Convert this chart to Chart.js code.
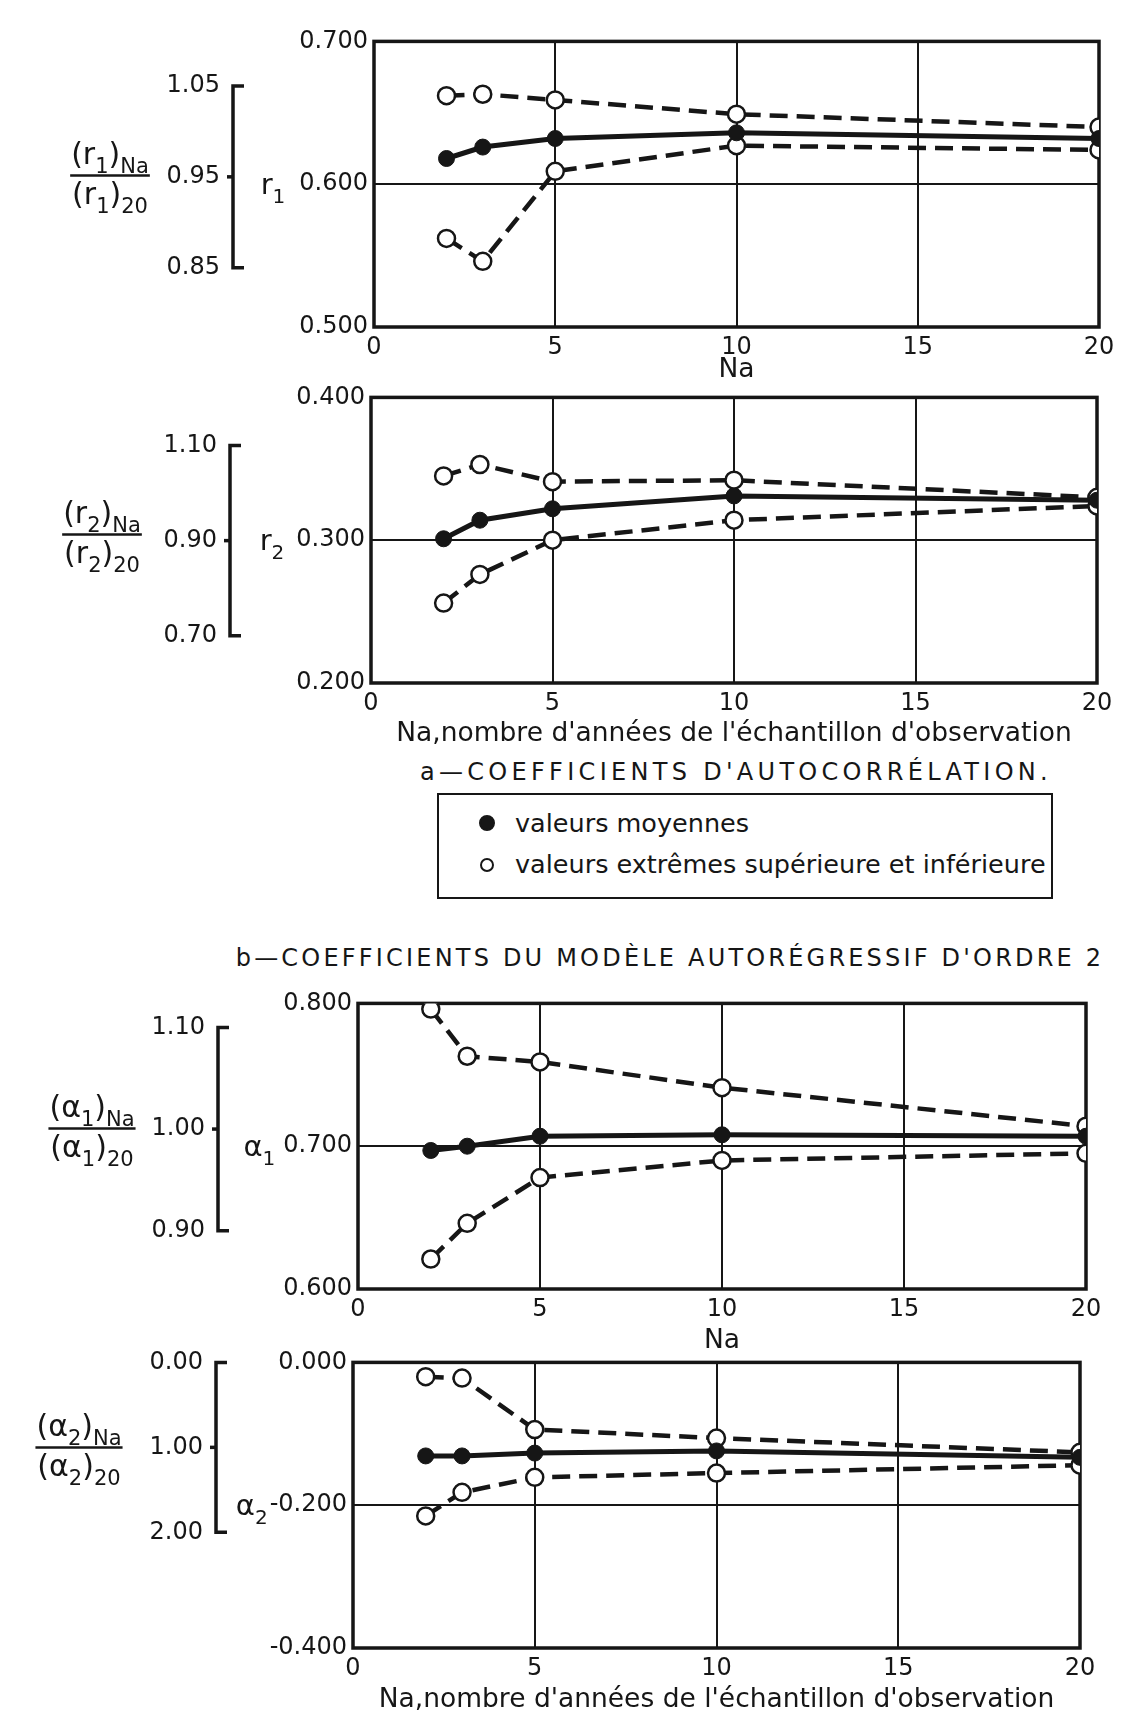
<!DOCTYPE html>
<html lang="fr">
<head>
<meta charset="utf-8">
<title>Coefficients d'autocorrélation et du modèle autorégressif</title>
<script src="https://cdn.jsdelivr.net/npm/chart.js@4.4.1/dist/chart.umd.min.js"></script>
<style>
  html, body { margin: 0; padding: 0; background: #fff; }
  body { position: relative; width: 1124px; height: 1725px; overflow: hidden;
         font-family: "DejaVu Sans", "Liberation Sans", sans-serif; color: #161616; }
  canvas { position: absolute; left: 0; }
  .heading { position: absolute; white-space: nowrap; font-size: 24px;
             line-height: 1; transform: translate(-50%, -50%); }
  #legend { position: absolute; left: 437px; top: 793px; width: 612px; height: 102px;
            border: 2px solid #161616; }
  .row { position: absolute; left: 40px; font-size: 25.5px; white-space: nowrap; line-height: 1; }
  .dot { display: inline-block; border-radius: 50%; margin-right: 20px;
         vertical-align: 1px; box-sizing: border-box; border: 2px solid #161616; }
</style>
</head>
<body>

<canvas id="chart-r1" width="1124" height="367" style="top:21px"></canvas>
<canvas id="chart-r2" width="1124" height="375" style="top:377px"></canvas>

<div class="heading" style="left:736px; top:772px; letter-spacing:4.3px">a—COEFFICIENTS D'AUTOCORRÉLATION.</div>

<div id="legend">
  <div class="row" style="top:16px"><span class="dot" style="width:16px;height:16px;background:#161616"></span>valeurs moyennes</div>
  <div class="row" style="top:57px"><span class="dot" style="width:14px;height:14px;background:#fff;margin-left:1px;margin-right:21px"></span>valeurs extrêmes supérieure et inférieure</div>
</div>

<div class="heading" style="left:670px; top:958px; letter-spacing:3.2px">b—COEFFICIENTS DU MODÈLE AUTORÉGRESSIF D'ORDRE 2</div>

<canvas id="chart-a1" width="1124" height="376" style="top:983px"></canvas>
<canvas id="chart-a2" width="1124" height="376" style="top:1342px"></canvas>

<script>
// Couleur de l'encre
var ink = '#161616'

// Na, nombre d'années de l'échantillon
var naValues = [2, 3, 5, 10, 20]
var naTicks = [0, 5, 10, 15, 20]

// r1
var r1Upper = [0.662, 0.663, 0.659, 0.649, 0.640]
var r1Mean = [0.618, 0.626, 0.632, 0.636, 0.632]
var r1Lower = [0.562, 0.546, 0.609, 0.627, 0.624]
var r1Ticks = [0.500, 0.600, 0.700]
var r1RatioTicks = [0.85, 0.95, 1.05]
var r1Ref = 0.637

// r2
var r2Upper = [0.345, 0.353, 0.341, 0.342, 0.330]
var r2Mean = [0.301, 0.314, 0.322, 0.331, 0.328]
var r2Lower = [0.256, 0.276, 0.300, 0.314, 0.324]
var r2Ticks = [0.200, 0.300, 0.400]
var r2RatioTicks = [0.70, 0.90, 1.10]
var r2Ref = 0.333

// alpha1
var a1Upper = [0.796, 0.763, 0.759, 0.741, 0.714]
var a1Mean = [0.697, 0.700, 0.707, 0.708, 0.707]
var a1Lower = [0.621, 0.646, 0.678, 0.690, 0.695]
var a1Ticks = [0.600, 0.700, 0.800]
var a1RatioTicks = [0.90, 1.00, 1.10]
var a1Ref = 0.712

// alpha2
var a2Upper = [-0.020, -0.022, -0.094, -0.106, -0.126]
var a2Mean = [-0.131, -0.131, -0.127, -0.124, -0.133]
var a2Lower = [-0.215, -0.182, -0.161, -0.155, -0.144]
var a2Ticks = [-0.400, -0.200, 0.000]
var a2RatioTicks = [0.00, 1.00, 2.00]
var a2Ref = -0.119

var xTitleShort = 'Na'
var xTitleLong = "Na,nombre d'années de l'échantillon d'observation"

var fontFamily = '"DejaVu Sans", "Liberation Sans", sans-serif'

function toPoints(values) {
  return values.map((v, i) => ({ x: naValues[i], y: v }))
}

// Texte avec indices (ex. (r1)Na)
function drawRuns(ctx, runs, x, y, size, align) {
  var big = size + 'px ' + fontFamily
  var small = Math.round(size * 0.7) + 'px ' + fontFamily
  var w = 0
  runs.forEach(r => { ctx.font = r[1] ? small : big; w += ctx.measureText(r[0]).width })
  var cx = align == 'center' ? x - w / 2 : (align == 'right' ? x - w : x)
  ctx.textAlign = 'left'
  ctx.textBaseline = 'alphabetic'
  runs.forEach(r => {
    ctx.font = r[1] ? small : big
    ctx.fillText(r[0], cx, r[1] ? y + size * 0.3 : y)
    cx += ctx.measureText(r[0]).width
  })
  return w
}

// Cadre, accolade du rapport et étiquettes de gauche
var framePlugin = {
  id: 'frame',
  beforeDatasetsDraw(chart, args, opts) {
    var a = chart.chartArea
    var ctx = chart.ctx
    ctx.save()
    ctx.strokeStyle = ink
    ctx.lineWidth = 3.5
    ctx.strokeRect(a.left, a.top, a.right - a.left, a.bottom - a.top)
    ctx.restore()
  },
  afterDraw(chart, args, opts) {
    var ctx = chart.ctx
    var y = chart.scales.y
    var a = chart.chartArea
    ctx.save()
    ctx.fillStyle = ink
    ctx.strokeStyle = ink

    // accolade
    var ys = opts.ratioTicks.map(t => y.getPixelForValue(t * opts.ref))
    var top = Math.min(...ys), bottom = Math.max(...ys)
    var bx = opts.bracketX
    ctx.lineWidth = 3.5
    ctx.beginPath()
    ctx.moveTo(bx + 11, top); ctx.lineTo(bx, top); ctx.lineTo(bx, bottom); ctx.lineTo(bx + 11, bottom)
    ctx.stroke()
    ctx.font = '24px ' + fontFamily
    ctx.textAlign = 'right'
    ctx.textBaseline = 'middle'
    opts.ratioTicks.forEach((t, i) => {
      var py = ys[i]
      if (py != top && py != bottom) {
        ctx.beginPath(); ctx.moveTo(bx - 6, py); ctx.lineTo(bx, py); ctx.stroke()
      }
      ctx.fillText(t.toFixed(2), bx - 13, py)
    })

    // symbole (r1, alpha1...) devant l'étiquette du milieu
    var mid = y.ticks[1]
    var midY = y.getPixelForValue(mid.value)
    ctx.font = '24px ' + fontFamily
    var lw = ctx.measureText(mid.value.toFixed(3)).width
    drawRuns(ctx, [[opts.symbol, 0], [opts.index, 1]], a.left - 6 - lw - opts.symbolGap, midY + 10, 29, 'right')

    // fraction (x)Na / (x)20
    var lineY = a.top + opts.fracY
    var wNum = drawRuns(ctx, [['(' + opts.symbol, 0], [opts.index, 1], [')', 0], ['Na', 1]], opts.fracX, lineY - 11, 30, 'center')
    var wDen = drawRuns(ctx, [['(' + opts.symbol, 0], [opts.index, 1], [')', 0], ['20', 1]], opts.fracX, lineY + 29, 30, 'center')
    var w = Math.max(wNum, wDen) + 2
    ctx.lineWidth = 2.5
    ctx.beginPath(); ctx.moveTo(opts.fracX - w / 2, lineY); ctx.lineTo(opts.fracX + w / 2, lineY); ctx.stroke()
    ctx.restore()
  }
}

function extremeSet(values) {
  return {
    data: toPoints(values),
    borderColor: ink,
    borderWidth: 4.5,
    borderDash: [18, 9],
    pointRadius: 8.5,
    pointBorderWidth: 2.5,
    pointBackgroundColor: '#fff',
    pointBorderColor: ink,
    order: 1
  }
}

function meanSet(values) {
  return {
    data: toPoints(values),
    borderColor: ink,
    borderWidth: 5,
    pointRadius: 8,
    pointBorderWidth: 1,
    pointBackgroundColor: ink,
    pointBorderColor: ink,
    order: 0
  }
}

function makePanel(id, cfg) {
  var tickFont = { family: fontFamily, size: 24 }
  var titleFont = { family: fontFamily, size: 26.5 }
  return new Chart(document.getElementById(id), {
    type: 'line',
    data: { datasets: [extremeSet(cfg.upper), meanSet(cfg.mean), extremeSet(cfg.lower)] },
    options: {
      responsive: false,
      animation: false,
      layout: { padding: { top: 20, right: 1124 - cfg.right, bottom: 0, left: 0 } },
      plugins: {
        legend: { display: false },
        tooltip: { enabled: false },
        frame: cfg.frame
      },
      scales: {
        x: {
          type: 'linear',
          min: naTicks[0],
          max: naTicks[naTicks.length - 1],
          afterBuildTicks: s => { s.ticks = naTicks.map(v => ({ value: v })) },
          afterFit: s => { s.height = cfg.xHeight },
          grid: {
            drawTicks: false,
            lineWidth: 2,
            color: c => (c.index > 0 && c.index < naTicks.length - 1) ? ink : 'rgba(0,0,0,0)'
          },
          border: { display: false },
          ticks: { color: ink, padding: 6, font: tickFont },
          title: { display: true, text: cfg.xTitle, color: ink, font: titleFont, padding: { top: 0, bottom: 2 } }
        },
        y: {
          min: cfg.yTicks[0],
          max: cfg.yTicks[cfg.yTicks.length - 1],
          afterBuildTicks: s => { s.ticks = cfg.yTicks.map(v => ({ value: v })) },
          afterFit: s => { s.width = cfg.left },
          grid: {
            drawTicks: false,
            lineWidth: 2,
            color: c => c.index == 1 ? ink : 'rgba(0,0,0,0)'
          },
          border: { display: false },
          ticks: { color: ink, padding: 6, font: tickFont, callback: v => v.toFixed(3) }
        }
      }
    },
    plugins: [framePlugin]
  })
}

window.onload = function () {
  makePanel('chart-r1', {
    upper: r1Upper, mean: r1Mean, lower: r1Lower, yTicks: r1Ticks,
    left: 374, right: 1099, xHeight: 61, xTitle: xTitleShort,
    frame: { ratioTicks: r1RatioTicks, ref: r1Ref, symbol: 'r', index: '1', symbolGap: 14, bracketX: 233, fracX: 110, fracY: 134 }
  })
  makePanel('chart-r2', {
    upper: r2Upper, mean: r2Mean, lower: r2Lower, yTicks: r2Ticks,
    left: 371, right: 1097, xHeight: 69, xTitle: xTitleLong,
    frame: { ratioTicks: r2RatioTicks, ref: r2Ref, symbol: 'r', index: '2', symbolGap: 12, bracketX: 230, fracX: 102, fracY: 137 }
  })
  makePanel('chart-a1', {
    upper: a1Upper, mean: a1Mean, lower: a1Lower, yTicks: a1Ticks,
    left: 358, right: 1086, xHeight: 70, xTitle: xTitleShort,
    frame: { ratioTicks: a1RatioTicks, ref: a1Ref, symbol: 'α', index: '1', symbolGap: 8, bracketX: 218, fracX: 92, fracY: 125 }
  })
  makePanel('chart-a2', {
    upper: a2Upper, mean: a2Mean, lower: a2Lower, yTicks: a2Ticks,
    left: 353, right: 1080, xHeight: 70, xTitle: xTitleLong,
    frame: { ratioTicks: a2RatioTicks, ref: a2Ref, symbol: 'α', index: '2', symbolGap: 2, bracketX: 216, fracX: 79, fracY: 85 }
  })
}
</script>
</body>
</html>
